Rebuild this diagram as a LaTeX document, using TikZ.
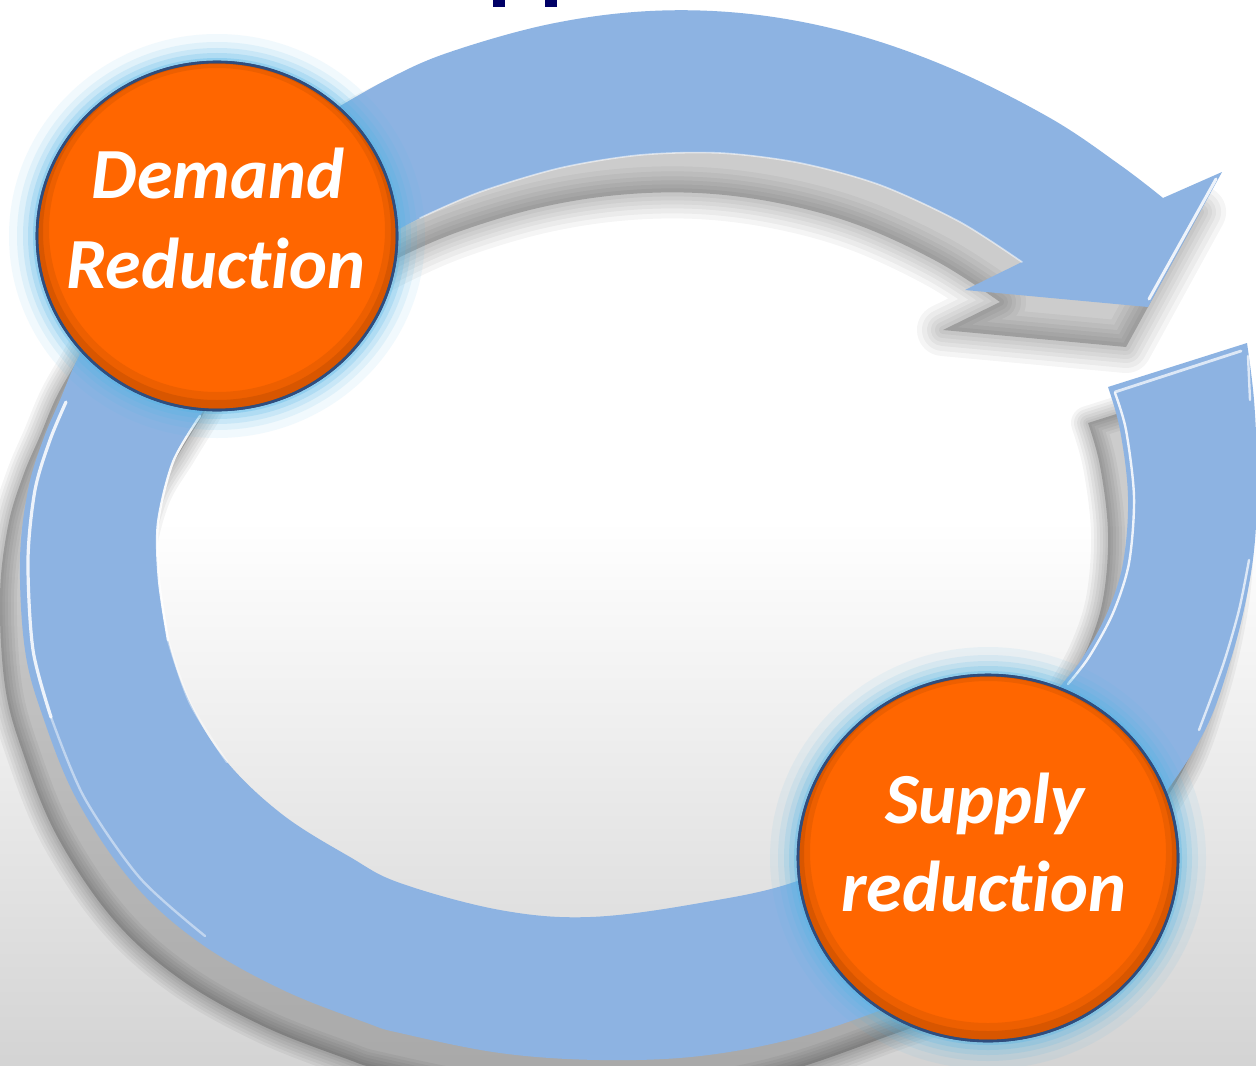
\documentclass[tikz,border=0pt]{standalone}
\usepackage{fontspec}
\setmainfont{Carlito}[Ligatures=NoCommon]
\usetikzlibrary{shapes.geometric}
\definecolor{arrowblue}{HTML}{8DB3E2}
\definecolor{orangefill}{HTML}{FF6600}
\definecolor{rimblue}{HTML}{2F4D7E}
\definecolor{glowcyan}{HTML}{4FB4E6}
\definecolor{navytitle}{HTML}{000066}
\definecolor{darkorange}{HTML}{A84400}
\begin{document}
\begin{tikzpicture}[x=0.5pt,y=-0.5pt,
  toparrow/.style={insert path={(330,112) -- plot[smooth,tension=0.6] coordinates {(330,112) (390,78) (450,52) (550,24) (650,11) (750,14) (850,33) (950,68) (1050,118) (1120,165) (1163,198)} -- (1222,172) -- (1148,307) -- (965,290) -- (1022,262) -- plot[smooth,tension=0.6] coordinates {(1022,262) (960,222) (880,185) (800,163) (720,153) (640,155) (560,168) (480,192) (420,218) (380,240)} -- cycle}},
  botarrow/.style={insert path={(1108,387) -- (1247,343) -- plot[smooth,tension=0.6] coordinates {(1247,343) (1254,400) (1257,470) (1255,540) (1246,600) (1230,662) (1205,730) (1160,800) (1080,900) (980,970) (900,1003) (800,1037) (700,1056) (600,1060) (500,1053) (400,1033) (367,1023) (283,990) (200,943) (133,883) (77,800) (43,717) (25,650) (20,560) (28,490) (43,440) (60,400) (77,360) (100,320) (120,285)} -- (250,330) -- plot[smooth,tension=0.6] coordinates {(250,330) (225,375) (200,416) (173,462) (158,523) (159,580) (168,640) (190,703) (227,762) (283,815) (350,857) (400,883) (500,910) (590,917) (700,903) (800,880) (900,830) (1000,760) (1063,683) (1083,657) (1107,613) (1123,563) (1128,497) (1120,430) (1108,387)} -- cycle}},
  lbl/.style={text=white, font=\fontsize{36pt}{44pt}\selectfont\bfseries\itshape, inner sep=0pt, anchor=base},
  orb/.style={ellipse, fill=orangefill, draw=rimblue, line width=1.3pt, inner sep=0pt},
  hilite/.style={draw=white, line width=1.2pt, line cap=round},
]
\useasboundingbox (0,0) rectangle (1256,1065);
% background
\fill[white] (0,0) rectangle (1256,1065);
\fill[top color=white, bottom color=black!17] (0,520) rectangle (1256,1065);
% title fragments
\fill[navytitle] (493,0) rectangle (505,7);
\fill[navytitle] (545,0) rectangle (557,7);
% shadows
\begin{scope}[shift={(-22,40)}]
  \foreach \w in {26,21,16,12,8,4}{
    \path[draw=black, line width=\w pt, line join=round, draw opacity=0.04, toparrow];
  }
  \path[fill=black, fill opacity=0.2, toparrow];
\end{scope}
\begin{scope}[shift={(-20,36)}]
  \foreach \w in {17,14,11,8,5,2.5}{
    \path[draw=black, line width=\w pt, line join=round, draw opacity=0.045, botarrow];
  }
  \path[fill=black, fill opacity=0.2, botarrow];
\end{scope}
% arrows
\path[fill=arrowblue, toparrow];
\path[fill=arrowblue, botarrow];
% highlights
\draw[hilite, opacity=0.55, line width=0.8pt] plot[smooth] coordinates {(1022,262) (960,222) (880,185) (800,163) (720,153) (640,155) (560,168) (480,192) (420,218)};
\draw[hilite, opacity=0.85, line width=1.5pt] (1216,179) -- (1149,299);
\draw[hilite, opacity=0.85, line width=1.6pt] plot[smooth] coordinates {(66,402) (50,440) (35,490) (28,560) (33,650) (51,717)};
\draw[hilite, opacity=0.45] plot[smooth] coordinates {(51,717) (84,797) (140,878) (205,936)};
\draw[hilite, opacity=0.9] plot[smooth] coordinates {(200,416) (173,462) (158,523) (159,580) (168,640)};
\draw[hilite, opacity=0.4] plot[smooth] coordinates {(168,640) (190,703) (227,762)};
\draw[hilite, opacity=0.7, line width=1.4pt] (1115,392) -- (1241,351);
\draw[hilite, opacity=0.85] plot[smooth] coordinates {(1115,393) (1126,430) (1134,497) (1129,563) (1113,613) (1089,657) (1068,684)};
\draw[hilite, opacity=0.7] plot[smooth] coordinates {(1248,356) (1250,400)};
\draw[hilite, opacity=0.7] plot[smooth] coordinates {(1249,560) (1239,610) (1223,665) (1199,730)};
% glows
\foreach \a/\b/\o in {104/101/0.08,100/97/0.11,97/94/0.15,94.5/91.5/0.2,92/89/0.3}{
  \fill[glowcyan, opacity=\o] (217,236) ellipse[x radius=\a pt, y radius=\b pt];
}
\foreach \a/\b/\o in {109/105.5/0.08,105/101.5/0.11,102/98.5/0.15,99.5/96/0.2,97/93.5/0.3}{
  \fill[glowcyan, opacity=\o] (988,858) ellipse[x radius=\a pt, y radius=\b pt];
}
% circles
\node[orb, minimum width=180pt, minimum height=174pt] (dem) at (217,236) {};
\node[orb, minimum width=190pt, minimum height=183pt] (sup) at (988,858) {};
\begin{scope}
  \clip (dem.center) ellipse[x radius=90pt, y radius=87pt];
  \draw[darkorange, line width=12pt, opacity=0.2] ([yshift=3pt]dem.center) ellipse[x radius=90pt, y radius=87pt];
  \draw[darkorange, line width=6pt, opacity=0.3] ([yshift=2pt]dem.center) ellipse[x radius=90pt, y radius=87pt];
\end{scope}
\begin{scope}
  \clip (sup.center) ellipse[x radius=95pt, y radius=91.5pt];
  \draw[darkorange, line width=12pt, opacity=0.2] ([yshift=3pt]sup.center) ellipse[x radius=95pt, y radius=91.5pt];
  \draw[darkorange, line width=6pt, opacity=0.3] ([yshift=2pt]sup.center) ellipse[x radius=95pt, y radius=91.5pt];
\end{scope}
\draw[rimblue, line width=1.3pt] (dem.center) ellipse[x radius=90pt, y radius=87pt];
\draw[rimblue, line width=1.3pt] (sup.center) ellipse[x radius=95pt, y radius=91.5pt];
% labels
\node[lbl] (demA) at (218,198) {Demand};
\node[lbl] (demB) at (216,288) {Reduction};
\node[lbl] (supA) at (985,823) {Supply};
\node[lbl] (supB) at (984,911) {reduction};
\end{tikzpicture}
\end{document}
